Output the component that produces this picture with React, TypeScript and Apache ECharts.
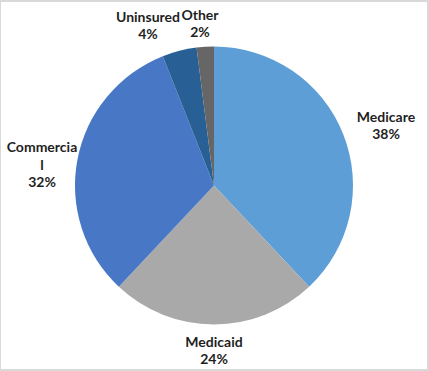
import React, { useEffect, useRef } from "react";
import * as echarts from "echarts";

const categories = ["Medicare", "Medicaid", "Commercial", "Uninsured", "Other"];
const displayLabels = ["Medicare", "Medicaid", "Commercia\nl", "Uninsured", "Other"];
const values = [38, 24, 32, 4, 2];
const colors = ["#5E9ED6", "#A9A9A9", "#4877C6", "#286096", "#666666"];
// label centres (layout only, relative to chart div)
const labelPositions: [number, number][] = [
  [385, 123],
  [213, 348],
  [41, 162],
  [147, 23],
  [199, 21],
];

export default function App() {
  const ref = useRef<HTMLDivElement>(null);
  useEffect(() => {
    document.body.style.margin = "0";
    const chart = echarts.init(ref.current!, null, { renderer: "svg" });
    chart.setOption({
      animation: false,
      backgroundColor: "#ffffff",
      series: [
        {
          type: "pie",
          center: [213, 183.5],
          radius: 139,
          startAngle: 90,
          clockwise: true,
          avoidLabelOverlap: false,
          itemStyle: { borderWidth: 0 },
          label: {
            show: true,
            position: "outside",
            fontFamily: "Lato",
            fontWeight: "bold",
            fontSize: 14,
            lineHeight: 17.5,
            color: "#1f1f1f",
            align: "center",
            formatter: (p: any) => `${displayLabels[p.dataIndex]}\n${values[p.dataIndex]}%`,
          },
          labelLine: { show: false },
          labelLayout: (p: any) => ({
            x: labelPositions[p.dataIndex][0],
            y: labelPositions[p.dataIndex][1],
            align: "center",
            verticalAlign: "middle",
          }),
          emphasis: { disabled: true },
          data: categories.map((name, i) => ({
            name,
            value: values[i],
            itemStyle: { color: colors[i] },
          })),
        },
      ],
    });
    return () => chart.dispose();
  }, []);
  return (
    <div
      style={{
        position: "absolute",
        left: 0,
        top: 0,
        width: 429,
        height: 371,
        boxSizing: "border-box",
        borderStyle: "solid",
        borderColor: "#D9D9D9",
        borderWidth: "2px 2px 2px 1px",
        background: "#fff",
      }}
    >
      <div ref={ref} style={{ width: 426, height: 367 }} />
    </div>
  );
}
